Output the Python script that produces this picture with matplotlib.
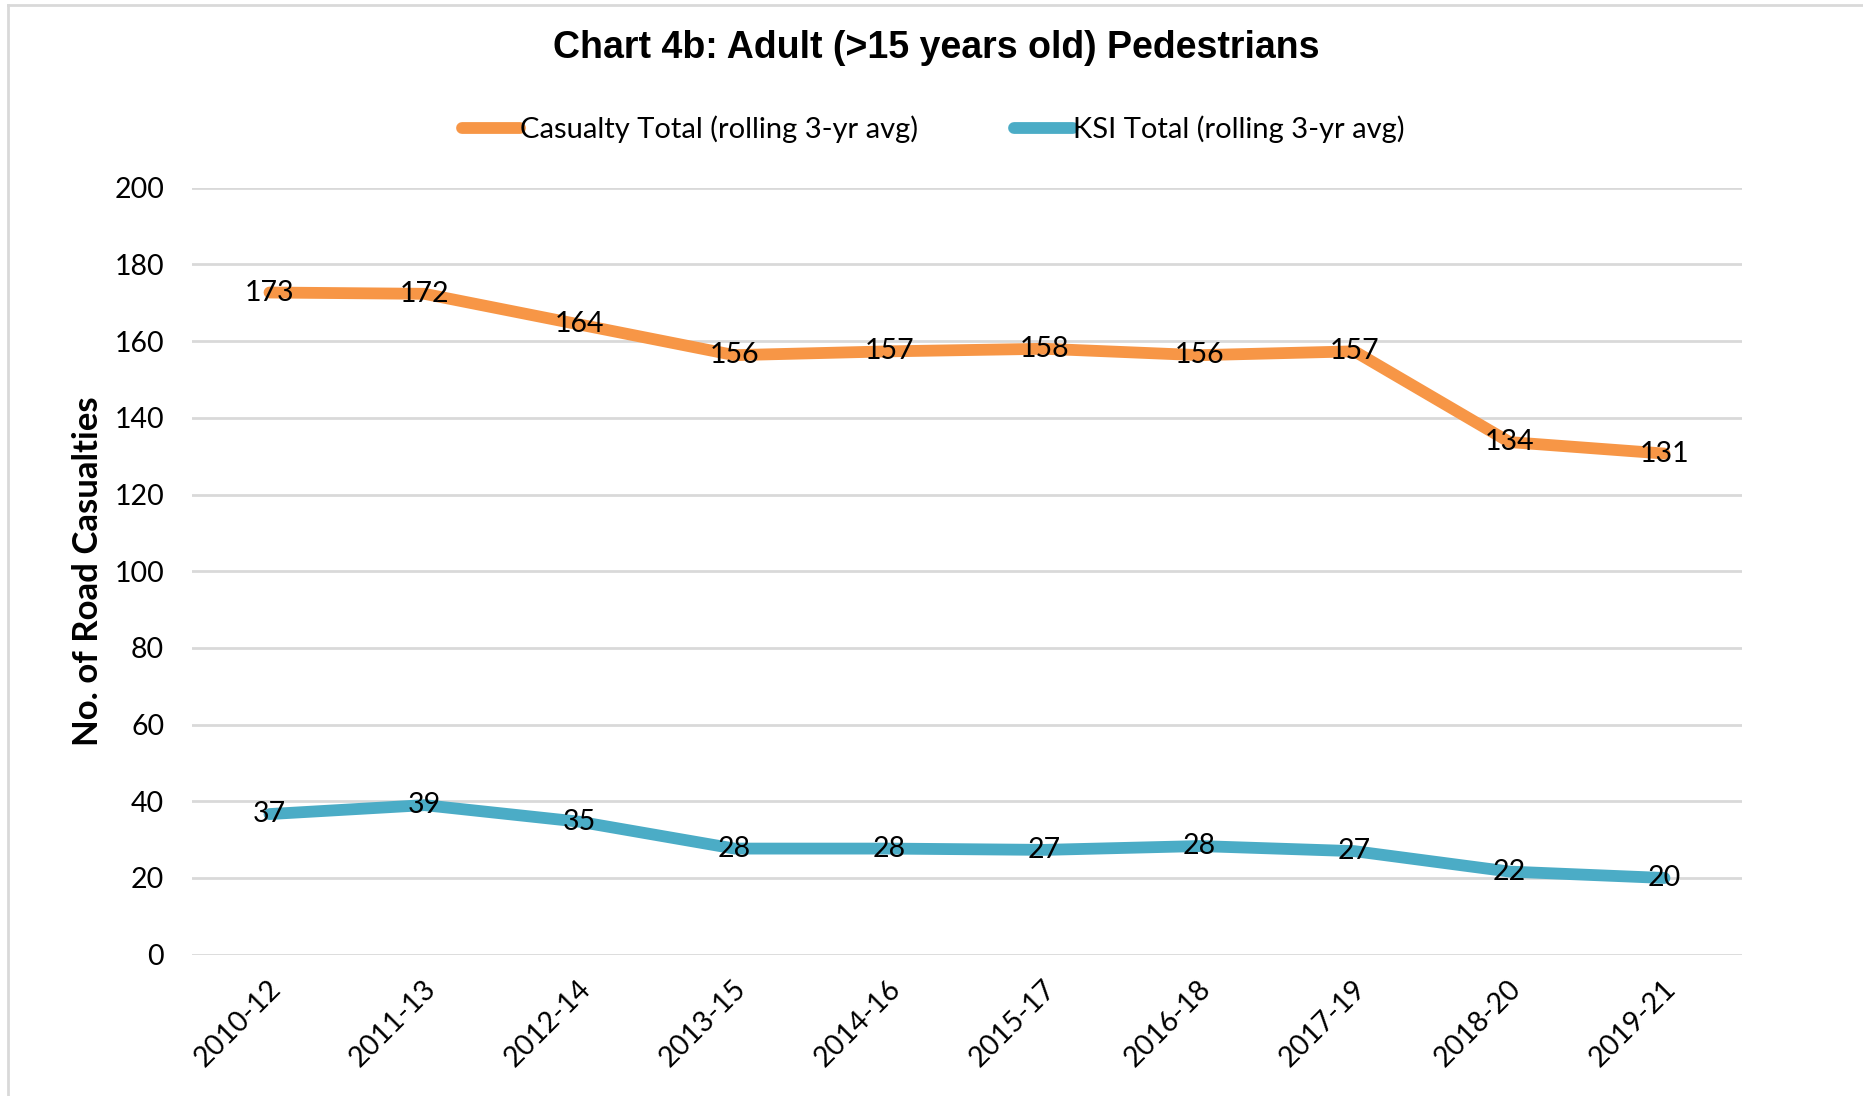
import matplotlib
matplotlib.use("Agg")
import matplotlib.pyplot as plt
from matplotlib.lines import Line2D
import matplotlib.transforms as mtransforms

categories = ["2010-12", "2011-13", "2012-14", "2013-15", "2014-16",
              "2015-17", "2016-18", "2017-19", "2018-20", "2019-21"]
casualty_total = [172.67, 172.33, 164.33, 156.33, 157.33, 158.0, 156.33, 157.33, 133.67, 130.67]
ksi_total = [36.67, 39.0, 34.67, 27.67, 27.67, 27.33, 28.33, 27.0, 21.67, 20.0]
y_ticks = [0, 20, 40, 60, 80, 100, 120, 140, 160, 180, 200]

title = "Chart 4b: Adult (>15 years old) Pedestrians"
series_names = ["Casualty Total (rolling 3-yr avg)", "KSI Total (rolling 3-yr avg)"]
y_label = "No. of Road Casualties"

ORANGE = "#F79646"
BLUE = "#4BACC6"
GRID = "#D9D9D9"
FONT = "Lato"
FS = 20.5

W, H = 1863, 1096
fig = plt.figure(figsize=(W / 100, H / 100), dpi=100)
fig.patch.set_facecolor("white")

# partial border (top and left) as in the reference crop
fig.add_artist(Line2D([8 / W, 1], [1 - 5 / H, 1 - 5 / H], color=GRID, lw=2, transform=fig.transFigure))
fig.add_artist(Line2D([8 / W, 8 / W], [0, 1 - 5 / H], color=GRID, lw=2, transform=fig.transFigure))

left, right = 192 / W, 1742 / W
bottom, top = 1 - 954.7 / H, 1 - 187.7 / H
ax = fig.add_axes([left, bottom, right - left, top - bottom])

x = list(range(len(categories)))
l1, = ax.plot(x, casualty_total, color=ORANGE, lw=8.5, solid_capstyle="round",
              solid_joinstyle="round", label=series_names[0], zorder=3)
l2, = ax.plot(x, ksi_total, color=BLUE, lw=8.5, solid_capstyle="round",
              solid_joinstyle="round", label=series_names[1], zorder=3)

for xi, v in zip(x, casualty_total):
    ax.text(xi, v, f"{v:.0f}", ha="center", va="center", fontsize=FS,
            family=FONT, color="black", zorder=4)
for xi, v in zip(x, ksi_total):
    ax.text(xi, v, f"{v:.0f}", ha="center", va="center", fontsize=FS,
            family=FONT, color="black", zorder=4)

ax.set_xlim(-0.5, len(categories) - 0.5)
ax.set_ylim(0, 200)
ax.set_yticks(y_ticks)
ax.set_yticklabels([str(t) for t in y_ticks], fontsize=FS, family=FONT)
ax.yaxis.grid(True, color=GRID, lw=2)
ax.set_axisbelow(True)
for s in ax.spines.values():
    s.set_visible(False)
ax.tick_params(axis="y", length=0, pad=20)
ax.tick_params(axis="x", length=0, pad=6)

ax.set_xticks(x)
ax.set_xticklabels(categories, fontsize=FS, family=FONT, rotation=45,
                   ha="right", va="center", rotation_mode="anchor")
offset = mtransforms.ScaledTranslation(7 / 100, -22 / 100, fig.dpi_scale_trans)
for lab in ax.get_xticklabels():
    lab.set_transform(lab.get_transform() + offset)

fig.text(88 / W, 1 - 571 / H, y_label, rotation=90, ha="center", va="center",
         fontsize=25, fontweight="bold", family=FONT)

fig.text(936 / W, 1 - 48 / H, title, ha="center", va="center",
         fontsize=27, fontweight="bold", family="Liberation Sans")

leg = fig.legend(handles=[l1, l2], loc="center", bbox_to_anchor=(933 / W, 1 - 129 / H),
                 ncol=2, frameon=False, prop={"family": FONT, "size": 21},
                 handlelength=2.0, handletextpad=0.0, columnspacing=3.3)

fig.savefig("out.png", dpi=100, facecolor="white")
